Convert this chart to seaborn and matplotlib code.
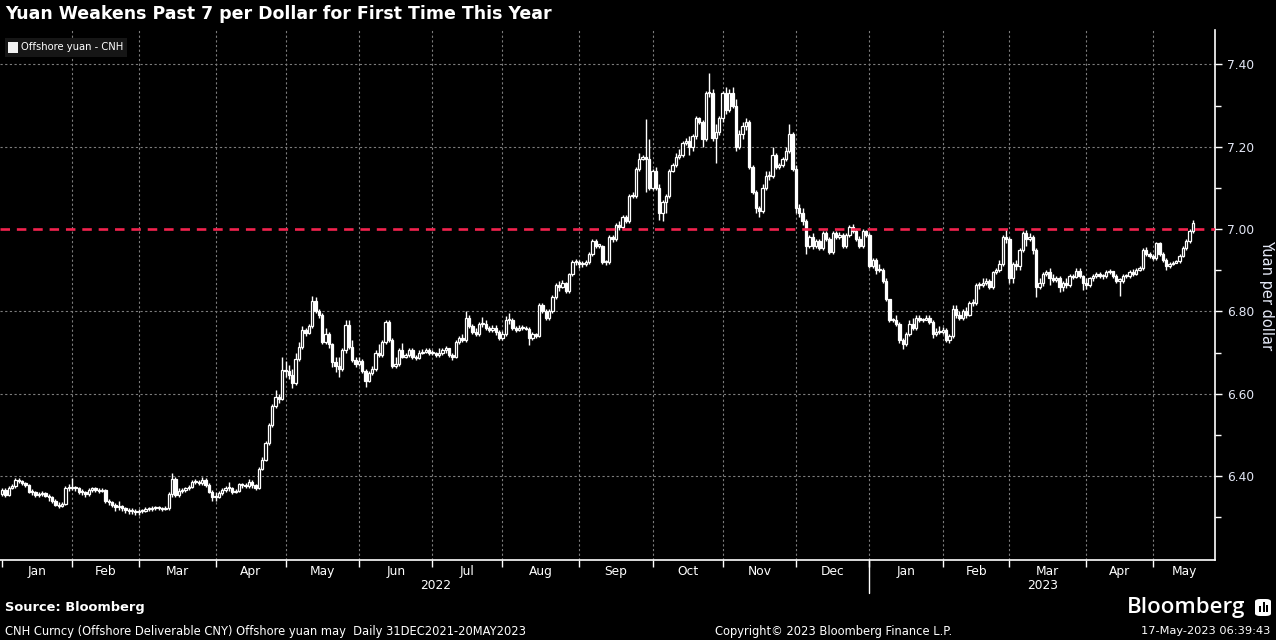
import numpy as np
import pandas as pd
import seaborn as sns
import matplotlib.pyplot as plt
from matplotlib.transforms import blended_transform_factory
from matplotlib.patches import Rectangle, FancyBboxPatch

# trading days shown on the chart
dates = pd.bdate_range("2022-01-03", "2023-05-17")

# daily closes (one line per month)
close = [
    6.365, 6.355, 6.372, 6.375, 6.390, 6.388, 6.382, 6.378, 6.362, 6.360, 6.354, 6.356, 6.358, 6.352, 6.348, 6.340, 6.330, 6.328, 6.332, 6.372, 6.370,
    6.372, 6.370, 6.362, 6.360, 6.356, 6.366, 6.370, 6.366, 6.364, 6.366, 6.340, 6.336, 6.330, 6.324, 6.326, 6.322, 6.318, 6.314, 6.316, 6.312,
    6.315, 6.316, 6.320, 6.320, 6.322, 6.325, 6.322, 6.320, 6.322, 6.356, 6.392, 6.355, 6.364, 6.366, 6.370, 6.374, 6.385, 6.386, 6.382, 6.390, 6.378, 6.362, 6.350,
    6.350, 6.358, 6.366, 6.372, 6.370, 6.362, 6.364, 6.380, 6.378, 6.376, 6.386, 6.378, 6.372, 6.418, 6.440, 6.480, 6.525, 6.570, 6.592, 6.588, 6.657,
    6.655, 6.645, 6.625, 6.685, 6.714, 6.755, 6.748, 6.765, 6.825, 6.800, 6.790, 6.726, 6.745, 6.720, 6.678, 6.668, 6.660, 6.705, 6.767, 6.714, 6.682, 6.672,
    6.680, 6.655, 6.632, 6.650, 6.660, 6.700, 6.695, 6.725, 6.775, 6.730, 6.668, 6.672, 6.705, 6.690, 6.695, 6.705, 6.690, 6.686, 6.700, 6.702, 6.706, 6.700,
    6.700, 6.695, 6.700, 6.705, 6.710, 6.695, 6.690, 6.725, 6.735, 6.730, 6.785, 6.765, 6.750, 6.745, 6.770, 6.770, 6.760, 6.755, 6.760, 6.750, 6.735,
    6.745, 6.780, 6.780, 6.760, 6.755, 6.760, 6.760, 6.758, 6.735, 6.745, 6.740, 6.815, 6.800, 6.785, 6.800, 6.835, 6.865, 6.860, 6.870, 6.850, 6.890, 6.920, 6.920,
    6.915, 6.915, 6.920, 6.940, 6.970, 6.960, 6.960, 6.920, 6.920, 6.980, 6.975, 7.010, 7.005, 7.030, 7.020, 7.080, 7.080, 7.145, 7.170, 7.175, 7.170, 7.100,
    7.140, 7.100, 7.040, 7.065, 7.080, 7.140, 7.155, 7.175, 7.180, 7.210, 7.215, 7.200, 7.225, 7.270, 7.260, 7.220, 7.330, 7.330, 7.222, 7.235, 7.270,
    7.330, 7.290, 7.330, 7.300, 7.200, 7.230, 7.250, 7.260, 7.150, 7.090, 7.050, 7.045, 7.100, 7.130, 7.130, 7.180, 7.150, 7.155, 7.170, 7.190, 7.230, 7.145,
    7.050, 7.040, 7.020, 6.960, 6.980, 6.960, 6.970, 6.955, 6.990, 6.975, 6.945, 6.990, 6.980, 6.985, 6.960, 6.985, 7.005, 6.995, 6.975, 6.960, 6.995, 6.985,
    6.910, 6.925, 6.900, 6.900, 6.875, 6.830, 6.780, 6.780, 6.770, 6.730, 6.720, 6.745, 6.770, 6.760, 6.785, 6.780, 6.780, 6.785, 6.775, 6.745, 6.750, 6.750,
    6.755, 6.730, 6.740, 6.805, 6.790, 6.785, 6.800, 6.790, 6.820, 6.820, 6.865, 6.865, 6.870, 6.875, 6.860, 6.895, 6.900, 6.915, 6.980, 6.975,
    6.880, 6.915, 6.910, 6.950, 6.990, 6.975, 6.980, 6.950, 6.860, 6.870, 6.890, 6.895, 6.880, 6.877, 6.880, 6.860, 6.870, 6.865, 6.885, 6.883, 6.897, 6.885, 6.870,
    6.865, 6.880, 6.885, 6.890, 6.885, 6.885, 6.895, 6.897, 6.885, 6.875, 6.875, 6.885, 6.885, 6.895, 6.890, 6.900, 6.905, 6.950, 6.940, 6.935,
    6.930, 6.965, 6.940, 6.925, 6.910, 6.915, 6.918, 6.922, 6.935, 6.955, 6.970, 6.995, 7.015,
]

high = [
    6.372, 6.370, 6.376, 6.380, 6.395, 6.394, 6.390, 6.386, 6.380, 6.368, 6.364, 6.360, 6.364, 6.362, 6.356, 6.352, 6.344, 6.336, 6.336, 6.375, 6.380,
    6.395, 6.376, 6.374, 6.368, 6.364, 6.370, 6.374, 6.374, 6.370, 6.370, 6.368, 6.344, 6.340, 6.334, 6.340, 6.330, 6.325, 6.322, 6.322, 6.320,
    6.320, 6.320, 6.324, 6.324, 6.326, 6.328, 6.326, 6.325, 6.326, 6.360, 6.407, 6.398, 6.370, 6.372, 6.374, 6.378, 6.390, 6.392, 6.390, 6.398, 6.394, 6.382, 6.366,
    6.362, 6.364, 6.370, 6.376, 6.385, 6.374, 6.368, 6.384, 6.384, 6.382, 6.392, 6.390, 6.380, 6.422, 6.446, 6.486, 6.530, 6.575, 6.610, 6.600, 6.690,
    6.680, 6.670, 6.660, 6.700, 6.725, 6.765, 6.760, 6.770, 6.838, 6.835, 6.805, 6.796, 6.760, 6.750, 6.724, 6.690, 6.690, 6.712, 6.778, 6.780, 6.730, 6.690,
    6.688, 6.685, 6.660, 6.656, 6.668, 6.705, 6.720, 6.730, 6.780, 6.778, 6.735, 6.690, 6.710, 6.722, 6.700, 6.712, 6.710, 6.695, 6.705, 6.708, 6.712, 6.710,
    6.706, 6.702, 6.710, 6.712, 6.716, 6.712, 6.700, 6.730, 6.740, 6.745, 6.800, 6.790, 6.770, 6.760, 6.775, 6.786, 6.778, 6.765, 6.768, 6.768, 6.755,
    6.752, 6.788, 6.795, 6.784, 6.765, 6.768, 6.766, 6.764, 6.762, 6.750, 6.748, 6.820, 6.820, 6.805, 6.805, 6.840, 6.870, 6.875, 6.876, 6.872, 6.894, 6.926, 6.928,
    6.925, 6.922, 6.924, 6.945, 6.975, 6.975, 6.964, 6.962, 6.925, 6.985, 6.985, 7.015, 7.020, 7.035, 7.035, 7.085, 7.090, 7.150, 7.185, 7.180, 7.268, 7.220,
    7.145, 7.150, 7.110, 7.070, 7.085, 7.145, 7.160, 7.185, 7.195, 7.215, 7.222, 7.225, 7.230, 7.275, 7.272, 7.265, 7.335, 7.378, 7.340, 7.255, 7.275,
    7.335, 7.345, 7.340, 7.345, 7.315, 7.240, 7.260, 7.270, 7.265, 7.155, 7.095, 7.055, 7.110, 7.140, 7.140, 7.200, 7.185, 7.160, 7.175, 7.200, 7.255, 7.235,
    7.155, 7.060, 7.050, 7.025, 6.985, 6.990, 6.975, 6.975, 6.995, 6.995, 6.980, 6.995, 6.995, 6.992, 6.990, 6.990, 7.010, 7.012, 7.000, 6.982, 7.000, 6.998,
    6.990, 6.930, 6.930, 6.915, 6.905, 6.880, 6.830, 6.785, 6.790, 6.775, 6.735, 6.750, 6.780, 6.785, 6.790, 6.790, 6.784, 6.790, 6.790, 6.780, 6.760, 6.765,
    6.762, 6.760, 6.745, 6.815, 6.815, 6.800, 6.805, 6.810, 6.825, 6.830, 6.870, 6.872, 6.880, 6.880, 6.878, 6.898, 6.905, 6.925, 6.985, 7.000,
    6.980, 6.920, 6.925, 6.955, 6.995, 6.998, 6.990, 6.985, 6.955, 6.880, 6.895, 6.900, 6.905, 6.890, 6.885, 6.885, 6.875, 6.880, 6.890, 6.892, 6.905, 6.905, 6.888,
    6.880, 6.884, 6.890, 6.895, 6.895, 6.892, 6.900, 6.902, 6.898, 6.890, 6.882, 6.890, 6.890, 6.900, 6.902, 6.905, 6.910, 6.955, 6.956, 6.945,
    6.940, 6.968, 6.968, 6.945, 6.930, 6.920, 6.922, 6.926, 6.940, 6.960, 6.975, 7.000, 7.022,
]

low = [
    6.352, 6.350, 6.352, 6.368, 6.372, 6.384, 6.378, 6.374, 6.358, 6.354, 6.350, 6.350, 6.352, 6.348, 6.340, 6.334, 6.326, 6.322, 6.324, 6.330, 6.364,
    6.366, 6.364, 6.356, 6.354, 6.350, 6.352, 6.362, 6.360, 6.358, 6.360, 6.334, 6.330, 6.324, 6.316, 6.318, 6.316, 6.310, 6.308, 6.308, 6.305,
    6.306, 6.310, 6.312, 6.316, 6.316, 6.318, 6.318, 6.316, 6.317, 6.318, 6.350, 6.348, 6.350, 6.358, 6.362, 6.366, 6.370, 6.380, 6.378, 6.378, 6.374, 6.358, 6.340,
    6.340, 6.346, 6.354, 6.362, 6.364, 6.356, 6.358, 6.360, 6.372, 6.372, 6.372, 6.372, 6.365, 6.368, 6.414, 6.436, 6.476, 6.520, 6.565, 6.578, 6.584,
    6.640, 6.636, 6.615, 6.620, 6.680, 6.708, 6.740, 6.744, 6.760, 6.795, 6.785, 6.720, 6.720, 6.712, 6.665, 6.652, 6.640, 6.655, 6.700, 6.708, 6.676, 6.665,
    6.668, 6.650, 6.617, 6.628, 6.645, 6.655, 6.690, 6.690, 6.720, 6.725, 6.662, 6.662, 6.668, 6.686, 6.686, 6.690, 6.685, 6.682, 6.684, 6.696, 6.700, 6.694,
    6.694, 6.690, 6.688, 6.694, 6.700, 6.690, 6.682, 6.686, 6.720, 6.725, 6.725, 6.760, 6.745, 6.740, 6.740, 6.762, 6.755, 6.750, 6.750, 6.742, 6.730,
    6.730, 6.740, 6.770, 6.755, 6.750, 6.752, 6.754, 6.754, 6.718, 6.730, 6.736, 6.738, 6.795, 6.778, 6.780, 6.796, 6.830, 6.850, 6.856, 6.845, 6.845, 6.886, 6.912,
    6.906, 6.908, 6.910, 6.915, 6.935, 6.955, 6.955, 6.915, 6.912, 6.915, 6.968, 6.970, 6.998, 7.000, 7.015, 7.015, 7.075, 7.075, 7.140, 7.168, 7.090, 7.095,
    7.095, 7.095, 7.022, 7.020, 7.040, 7.075, 7.138, 7.150, 7.170, 7.175, 7.205, 7.180, 7.190, 7.220, 7.255, 7.200, 7.215, 7.320, 7.215, 7.160, 7.228,
    7.260, 7.280, 7.285, 7.295, 7.190, 7.195, 7.220, 7.240, 7.145, 7.085, 7.040, 7.030, 7.040, 7.095, 7.120, 7.125, 7.145, 7.145, 7.150, 7.165, 7.185, 7.140,
    7.040, 7.030, 7.010, 6.940, 6.955, 6.952, 6.955, 6.950, 6.950, 6.970, 6.940, 6.940, 6.975, 6.975, 6.955, 6.955, 6.980, 6.990, 6.970, 6.955, 6.955, 6.980,
    6.905, 6.905, 6.890, 6.895, 6.870, 6.825, 6.775, 6.775, 6.765, 6.722, 6.708, 6.715, 6.740, 6.755, 6.755, 6.775, 6.775, 6.778, 6.770, 6.735, 6.740, 6.745,
    6.745, 6.726, 6.722, 6.735, 6.785, 6.778, 6.780, 6.785, 6.788, 6.812, 6.815, 6.855, 6.860, 6.865, 6.855, 6.855, 6.890, 6.895, 6.910, 6.965,
    6.870, 6.868, 6.900, 6.900, 6.945, 6.960, 6.970, 6.940, 6.835, 6.855, 6.862, 6.885, 6.865, 6.872, 6.872, 6.848, 6.850, 6.858, 6.860, 6.878, 6.880, 6.880, 6.852,
    6.855, 6.860, 6.875, 6.880, 6.880, 6.878, 6.880, 6.892, 6.880, 6.870, 6.838, 6.870, 6.880, 6.882, 6.885, 6.888, 6.898, 6.900, 6.935, 6.930,
    6.925, 6.925, 6.935, 6.920, 6.900, 6.905, 6.912, 6.918, 6.918, 6.932, 6.950, 6.965, 6.990,
]

first_open = 6.357
y_ticks = [6.40, 6.60, 6.80, 7.00, 7.20, 7.40]
y_minor = [6.30, 6.50, 6.70, 6.90, 7.10, 7.30]
threshold = 7.00

df = pd.DataFrame({"date": dates, "close": close, "high": high, "low": low})
df["open"] = [first_open] + close[:-1]
df["pos"] = np.arange(len(df))
df["top"] = df[["open", "close"]].max(axis=1)
df["bot"] = df[["open", "close"]].min(axis=1)
df["high"] = np.maximum(df["high"], df["top"])
df["low"] = np.minimum(df["low"], df["bot"])
df["up"] = df["close"] >= df["open"]

sns.set_theme(style="dark", rc={"figure.facecolor": "black", "axes.facecolor": "black",
                                "text.color": "white", "axes.edgecolor": "white"})
plt.rcParams["font.family"] = ["DejaVu Sans"]

W, H = 1276, 640
fig = plt.figure(figsize=(W / 100, H / 100), dpi=100, facecolor="black")
ax = fig.add_axes([0, 1 - 560 / H, 1215 / W, 530 / H])
ax.set_facecolor("black")
ax.set_xlim(-0.6, 363.6)
ax.set_ylim(6.196, 7.4836)

# month boundaries
month_key = df["date"].dt.to_period("M")
month_start = df.index[month_key != month_key.shift()].tolist()
grid_kw = dict(color="#7c7c7c", lw=0.8, dashes=(2, 2.2), zorder=1)
for p in month_start[1:]:
    ax.axvline(p, **grid_kw)
for v in y_ticks:
    if v != threshold:
        ax.axhline(v, **grid_kw)

ax.axhline(threshold, color="#f2234e", lw=1.9, dashes=(3.6, 2.6), zorder=4)

# candles: wicks, then bodies (hollow = up day, filled = down day)
ax.vlines(df["pos"], df["low"], df["high"], color="white", lw=1.0, zorder=2)
body = (df["top"] - df["bot"]).clip(lower=0.0025)
face = np.where(df["up"], "black", "white")
ax.bar(df["pos"], body, bottom=df["bot"], width=0.7, color=face,
       edgecolor="white", linewidth=0.9, zorder=3)

# axes styling
for s in ["left", "top"]:
    ax.spines[s].set_visible(False)
for s in ["right", "bottom"]:
    ax.spines[s].set_color("white")
    ax.spines[s].set_linewidth(1.2)
ax.yaxis.tick_right()
ax.set_yticks(y_ticks)
ax.set_yticklabels([f"{v:.2f}" for v in y_ticks])
ax.set_yticks(y_minor, minor=True)
ax.tick_params(axis="y", which="major", length=5, width=1, color="white",
               labelcolor="#e4e8f6", labelsize=8.8, pad=4, right=True, left=False)
ax.tick_params(axis="y", which="minor", length=4, width=1, color="white", right=True, left=False)
ax.set_xticks(month_start)
ax.set_xticklabels([])
ax.tick_params(axis="x", length=5, width=1, color="white", bottom=True)
ax.grid(False)

tr = blended_transform_factory(ax.transData, ax.transAxes)
ends = month_start[1:] + [ax.get_xlim()[1]]
for s, e in zip(month_start, ends):
    mid = (max(s, ax.get_xlim()[0]) + e) / 2
    ax.text(mid, -0.021, df["date"][s].strftime("%b"), transform=tr, ha="center",
            va="center", fontsize=8.8, color="white")

year_start = [p for p in month_start if df["date"][p].month == 1]
y_ends = year_start[1:] + [ax.get_xlim()[1]]
for s, e in zip(year_start, y_ends):
    mid = (max(s, ax.get_xlim()[0]) + e) / 2
    ax.text(mid, -0.049, str(df["date"][s].year), transform=tr, ha="center",
            va="center", fontsize=8.8, color="white")
for p in year_start[1:]:
    ax.plot([p, p], [0, -0.062], transform=tr, color="white", lw=1, clip_on=False)

ax.set_ylabel("Yuan per dollar", rotation=270, labelpad=14, fontsize=10.5, color="#e4e8f6")
ax.yaxis.set_label_position("right")

# title and legend
fig.text(5 / W, 1 - 14 / H, "Yuan Weakens Past 7 per Dollar for First Time This Year",
         fontsize=12.5, fontweight="bold", color="white", va="center", ha="left")
fig.patches.append(Rectangle((5 / W, 1 - 57 / H), 122 / W, 19 / H, transform=fig.transFigure,
                             facecolor="#161616", edgecolor="none", zorder=5))
fig.patches.append(Rectangle((8 / W, 1 - 53 / H), 10 / W, 11 / H, transform=fig.transFigure,
                             facecolor="#f2f2f2", edgecolor="none", zorder=6))
fig.text(21 / W, 1 - 47.5 / H, "Offshore yuan - CNH", fontsize=7.2, color="white",
         va="center", ha="left", zorder=7)

# footer
fig.text(5 / W, 1 - 608 / H, "Source: Bloomberg", fontsize=9.4, fontweight="bold",
         color="white", va="center", ha="left")
fig.text(5 / W, 1 - 631 / H,
         "CNH Curncy (Offshore Deliverable CNY) Offshore yuan may  Daily 31DEC2021-20MAY2023",
         fontsize=8.3, color="white", va="center", ha="left")
fig.text(834 / W, 1 - 631 / H, "Copyright\u00a9 2023 Bloomberg Finance L.P.",
         fontsize=8.3, color="white", va="center", ha="center")
fig.text(1270 / W, 1 - 631 / H, "17-May-2023 06:39:43", fontsize=8.2,
         color="white", va="center", ha="right")
fig.text(1245 / W, 1 - 607 / H, "Bloomberg", fontsize=16, fontweight="semibold",
         family="Open Sans", color="white", va="center", ha="right")
fig.patches.append(FancyBboxPatch((1255 / W, 1 - 616 / H), 16 / W, 17 / H,
                                  boxstyle="round,pad=0,rounding_size=0.004",
                                  transform=fig.transFigure, facecolor="white",
                                  edgecolor="none"))
for bx, bh in [(1259, 6), (1262.5, 10), (1266, 7)]:
    fig.patches.append(Rectangle((bx / W, 1 - 612 / H), 2 / W, bh / H,
                                 transform=fig.transFigure, facecolor="black",
                                 edgecolor="none", zorder=3))

fig.savefig("out.png", dpi=100, facecolor="black")
